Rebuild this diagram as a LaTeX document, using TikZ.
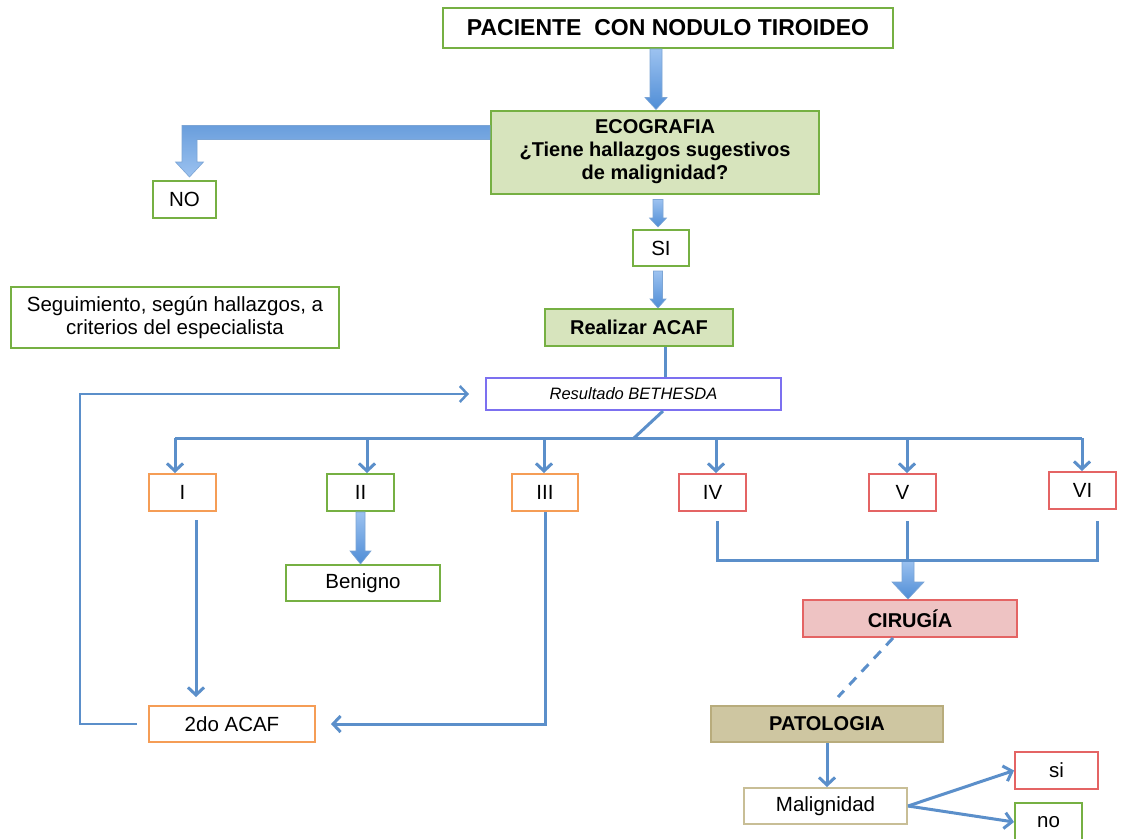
\documentclass[tikz,border=0pt]{standalone}
\usepackage{fontspec}
\setmainfont{Liberation Sans}
\usetikzlibrary{arrows.meta,calc}
\definecolor{grn}{HTML}{76B043}
\definecolor{lgrn}{HTML}{D7E4BD}
\definecolor{org}{HTML}{F59D56}
\definecolor{rd}{HTML}{E46464}
\definecolor{pnk}{HTML}{EEC3C3}
\definecolor{patf}{HTML}{CEC6A1}
\definecolor{patd}{HTML}{B8AC7C}
\definecolor{mald}{HTML}{C8BE96}
\definecolor{resd}{HTML}{7C70F0}
\definecolor{lblue}{HTML}{5B8FCA}
\definecolor{fattop}{HTML}{9CC2F0}
\definecolor{fatbot}{HTML}{4F8DD6}
\newcommand\fatarrow[5]{%
  \shade[top color=fattop,bottom color=fatbot,draw=lblue!80,line width=0.6pt]
    let \p1=#1, \p2=#2 in
    (\x1-#3,\y1) -- (\x1-#3,\y2+#5) -- (\x1-#4,\y2+#5) -- (\x1,\y2)
    -- (\x1+#4,\y2+#5) -- (\x1+#3,\y2+#5) -- (\x1+#3,\y1) -- cycle;}
\begin{document}
\begin{tikzpicture}[x=1pt,y=-1pt,
  box/.style={draw, line width=2pt, inner sep=0pt, align=center, fill=white,
    font=\fontsize{20.5}{23}\selectfont},
  gbox/.style={box, draw=grn},
  obox/.style={box, draw=org},
  rbox/.style={box, draw=rd},
  bfont/.style={font=\fontsize{20}{23}\selectfont\bfseries},
  conn/.style={draw=lblue, line width=3pt},
  arr/.style={conn, -{Straight Barb[length=7.5pt,width=16pt]}}]
\clip (0,0) rectangle (1121,838);
\fill[white] (0,0) rectangle (1121,838);
% nodes
\node[gbox, minimum width=450pt, minimum height=40pt,
  font=\fontsize{23}{26}\selectfont\bfseries] (title) at (668,28) {PACIENTE\ \ CON NODULO TIROIDEO};
\node[gbox, fill=lgrn, minimum width=328pt, minimum height=83pt, bfont] (eco) at (655,152) {ECOGRAFIA\\¿Tiene hallazgos sugestivos\\de malignidad?};
\node[gbox, minimum width=63pt, minimum height=37pt] (no) at (184.5,199.5) {NO};
\node[gbox, minimum width=56pt, minimum height=36pt] (si) at (661,248) {SI};
\node[gbox, minimum width=328pt, minimum height=61pt] (seg) at (175,317.5) {Seguimiento, según hallazgos, a\\criterios del especialista};
\node[gbox, fill=lgrn, minimum width=188pt, minimum height=37pt, bfont] (acaf) at (639,327.5) {Realizar ACAF};
\node[box, draw=resd, minimum width=295pt, minimum height=32pt,
  font=\fontsize{16.5}{19}\selectfont\itshape] (res) at (633.5,394) {Resultado BETHESDA};
\node[obox, minimum width=67pt, minimum height=37pt] (b1) at (182.5,492.5) {I};
\node[gbox, minimum width=67pt, minimum height=37pt] (b2) at (360.5,492.5) {II};
\node[obox, minimum width=66pt, minimum height=37pt] (b3) at (545,492.5) {III};
\node[rbox, minimum width=67pt, minimum height=37pt] (b4) at (712.5,492.5) {IV};
\node[rbox, minimum width=67pt, minimum height=37pt] (b5) at (902.5,492.5) {V};
\node[rbox, minimum width=67pt, minimum height=37pt] (b6) at (1082.5,490.5) {VI};
\node[gbox, minimum width=154pt, minimum height=36pt] (ben) at (363,583) {Benigno};
\node[rbox, fill=pnk, minimum width=214pt, minimum height=37pt, bfont] (cir) at (910,618.5) {CIRUGÍA};
\node[obox, minimum width=166pt, minimum height=36pt] (acaf2) at (232,724) {2do ACAF};
\node[box, draw=patd, fill=patf, minimum width=232pt, minimum height=36pt, bfont] (pat) at (827,724) {PATOLOGIA};
\node[box, draw=mald, minimum width=163pt, minimum height=36pt] (mal) at (825.5,806) {Malignidad};
\node[rbox, minimum width=83pt, minimum height=37pt] (si2) at (1056.5,770.5) {si};
\node[box, draw=grn, minimum width=67pt, minimum height=38pt] (no2) at (1048.5,822) {no};
% fat arrows
\fatarrow{([xshift=-12pt]title.south)}{(eco.north)}{6pt}{11pt}{12pt}
\fatarrow{([xshift=3pt,yshift=-5pt]eco.south)}{([yshift=2pt]si.north)}{5pt}{8.5pt}{9pt}
\fatarrow{([xshift=-3pt,yshift=-4pt]si.south)}{(acaf.north)}{4.5pt}{8pt}{9pt}
\fatarrow{(b2.south)}{(ben.north)}{4.5pt}{10.5pt}{13pt}
\coordinate (j) at (908,560);
\fatarrow{(j)}{(cir.north)}{6pt}{16pt}{17pt}
\shade[top color=fatbot!85,bottom color=fattop,draw=lblue!80,line width=0.6pt]
  let \p1=(eco.west), \p2=(no.north) in
  (\x1,\y1+26.5pt) -- (\x2-2.5pt,\y1+26.5pt) -- (\x2-2.5pt,\y2+18pt)
  -- (\x2-9pt,\y2+18pt) -- (\x2+5pt,\y2+3pt) -- (\x2+19pt,\y2+18pt)
  -- (\x2+12.5pt,\y2+18pt) -- (\x2+12.5pt,\y1+12.5pt) -- (\x1,\y1+12.5pt) -- cycle;
% thin connectors
\draw[conn] ([xshift=26pt]acaf.south) -- ([xshift=26pt]acaf.south |- res.north);
\coordinate (bus) at (634,438);
\draw[conn] ([xshift=29.5pt]res.south) -- (bus);
\coordinate (d1) at (175,438);
\coordinate (d2) at (367,438);
\coordinate (d3) at (544,438);
\coordinate (d4) at (716,438);
\coordinate (d5) at (907,438);
\coordinate (d6) at (1082,438);
\draw[conn, rounded corners=3pt] (d1) -- (d6);
\draw[arr] (d1) -- (d1 |- b1.north);
\draw[arr] (d2) -- (d2 |- b2.north);
\draw[arr] (d3) -- (d3 |- b3.north);
\draw[arr] (d4) -- (d4 |- b4.north);
\draw[arr] (d5) -- (d5 |- b5.north);
\draw[arr] (d6) -- (d6 |- b6.north);
\draw[arr, shorten >=8pt] ([xshift=13.5pt,yshift=-8pt]b1.south) -- ([xshift=13.5pt]b1.south |- acaf2.north);
\draw[arr, shorten >=15pt] (b3.south) |- (acaf2.east);
\coordinate (lp) at (80,394);
\draw[arr, line width=2.5pt, shorten <=11pt, shorten >=16pt] (acaf2.west) -| (lp) -- (res.west);
\draw[conn] ([xshift=4.5pt,yshift=-9pt]b4.south) |- ([xshift=14.5pt]b6.south |- j)
  -- ([xshift=14.5pt,yshift=-11pt]b6.south);
\draw[conn] ([xshift=4.5pt,yshift=-9pt]b5.south) -- ([xshift=4.5pt]b5.south |- j);
\draw[conn, dash pattern=on 10pt off 8pt] ([xshift=-17pt]cir.south) -- ([xshift=11pt,yshift=8pt]pat.north);
\draw[arr] (pat.south) -- (pat.south |- mal.north);
\draw[arr] (mal.east) -- (si2.west);
\draw[arr] (mal.east) -- (no2.west);
\end{tikzpicture}
\end{document}
